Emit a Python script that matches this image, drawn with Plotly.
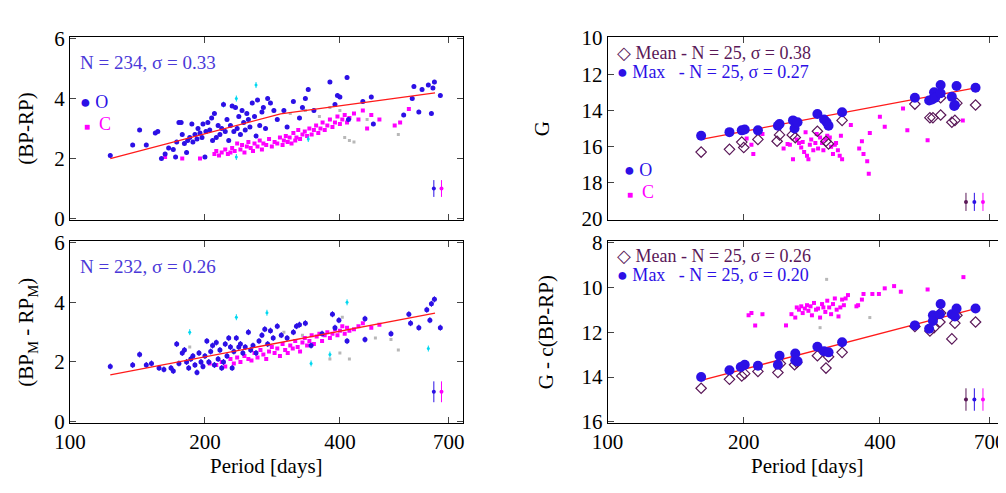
import plotly.graph_objects as go

# --- Daten: oben links (BP-RP) ---
tl_o_p = [123,138,143,148,155,157,160,163,166,170,172,173,175,177,178,180,182,183,185,187,188,190,192,193,195,197,198,200,201,203,205,207,208,210,212,214,216,218,220,222,224,226,228,230,232,234,236,238,240,242,244,246,248,250,252,255,258,260,262,265,268,270,273,276,280,285,290,300,305,315,325,330,335,340,350,380,390,395,400,415,418,450,470,475,555,580,585,600,610,630,640,645,650,670]
tl_o_v = [2.1,2.45,2.95,2.45,2.85,2.9,2.0,2.15,2.35,2.3,2.05,2.55,3.2,3.2,2.8,2.5,2.2,2.6,2.7,3.15,2.55,2.8,2.65,3.0,2.85,2.7,3.15,2.05,2.9,3.2,2.95,3.35,2.6,3.5,2.7,3.1,2.8,3.0,3.8,2.9,3.3,2.6,3.1,3.75,2.9,3.7,3.0,3.4,2.8,3.6,3.2,2.95,3.5,3.3,3.05,3.85,3.4,2.75,3.95,3.1,3.55,3.7,3.0,4.0,3.85,3.6,3.3,3.6,3.05,3.9,3.35,3.7,4.0,4.3,3.6,4.55,3.8,4.1,4.05,4.7,3.3,3.9,4.05,3.15,3.45,4.0,4.4,3.55,4.3,4.45,3.5,4.35,4.55,4.1]
tl_c_p = [163,178,195,210,212,215,218,222,225,228,230,233,236,240,242,245,248,250,253,256,258,262,265,268,270,274,278,282,286,290,294,298,300,303,306,309,312,315,318,320,323,326,330,334,338,342,346,350,354,358,362,366,370,375,380,385,390,395,400,405,410,415,420,430,440,450,460,470,490,530,545,570]
tl_c_v = [2.05,2.0,2.0,2.15,2.25,2.1,2.2,2.3,2.15,2.2,2.35,2.25,2.5,2.3,2.45,2.2,2.4,2.55,2.35,2.25,2.5,2.4,2.6,2.3,2.5,2.45,2.65,2.4,2.55,2.5,2.7,2.45,2.6,2.75,2.55,2.7,2.5,2.85,2.6,2.7,2.95,2.65,2.8,2.9,2.75,3.0,2.8,2.95,3.1,2.85,3.0,3.2,2.95,3.1,3.3,3.05,3.2,3.4,3.15,3.3,3.45,3.2,3.35,3.5,3.3,3.6,3.0,3.45,3.3,3.1,3.2,3.65]
tl_g_p = [290,310,335,360,380,400,410,420,430,460,540]
tl_g_v = [3.3,3.5,3.6,3.4,3.7,3.6,2.7,2.6,2.55,3.3,2.8]
tl_cy_p = [220,235,260,235,340]
tl_cy_v = [3.8,4.0,4.45,2.05,2.65]
tl_fit_p = [123,295,652]
tl_fit_v = [2.0,3.49,4.19]

# --- Daten: unten links (BP_M - RP_M) ---
bl_o_p = [123,138,143,148,152,158,162,168,170,173,175,178,180,182,184,186,188,190,192,194,196,198,200,202,204,206,208,210,212,214,216,218,220,222,224,226,228,230,232,235,238,240,243,246,250,253,256,260,264,268,272,276,280,284,290,296,305,315,320,325,335,345,365,385,390,398,415,455,455,520,570,575,600,625,635,640,650,670]
bl_o_v = [1.85,1.9,2.25,1.9,1.95,1.8,1.75,1.8,1.7,2.6,1.95,2.3,2.4,2.0,1.8,2.1,2.2,1.9,1.65,2.3,2.0,1.85,2.2,2.7,2.0,2.35,2.55,1.9,2.65,2.1,2.4,1.8,2.0,2.6,2.2,2.8,2.5,1.8,2.35,2.8,2.5,2.6,2.3,2.5,3.0,2.4,2.55,2.3,2.7,2.9,3.1,2.6,3.05,2.8,3.2,2.9,2.8,3.0,3.2,3.25,3.3,2.55,2.95,3.6,3.15,3.4,2.7,3.45,2.75,2.95,3.6,3.3,3.15,3.75,3.4,3.95,4.1,3.15]
bl_c_p = [190,198,205,212,218,222,228,232,236,240,245,250,254,258,262,266,270,274,278,282,286,290,294,298,302,306,310,314,318,322,326,330,334,338,342,346,350,355,360,365,370,375,380,385,390,395,400,405,410,415,420,430,440,450,470,490]
bl_c_v = [1.9,1.85,1.95,1.9,2.0,1.85,2.1,1.95,2.15,2.0,2.2,2.1,2.05,2.3,2.15,2.4,2.25,2.1,2.35,2.5,2.3,2.45,2.2,2.6,2.4,2.3,2.55,2.45,2.7,2.5,2.35,2.65,2.8,2.55,2.7,2.9,2.6,2.85,2.95,2.7,2.9,3.0,2.8,2.95,3.1,2.9,3.05,3.2,2.95,3.15,3.05,3.1,3.2,3.3,3.15,3.25]
bl_g_p = [185,300,330,380,400,405,420,480,520,540]
bl_g_v = [2.5,3.0,2.9,2.1,2.3,3.5,2.1,2.8,2.75,2.4]
bl_cy_p = [185,235,275,345,380,415,630]
bl_cy_v = [3.0,3.5,3.65,1.95,2.25,4.0,2.45]
bl_fit_p = [123,652]
bl_fit_v = [1.57,3.64]

# --- Daten: oben rechts (G) ---
tr_max_p = [161,186,198,201,215,238,240,257,259,263,291,301,305,308,330,478,514,522,527,530,545,545,577,586,591,584,651]
tr_max_v = [15.4,15.2,15.1,15.05,15.1,14.85,14.75,14.55,15.0,14.65,14.2,14.5,14.65,14.85,14.1,13.3,13.45,13.4,13.0,13.3,12.6,13.05,13.25,13.7,12.65,13.75,12.75]
tr_mean_p = [161,186,198,200,215,237,240,256,260,291,304,308,330,478,516,524,545,545,577,586,592,651]
tr_mean_v = [16.3,16.15,15.75,16.05,15.6,15.7,15.35,15.35,15.5,15.15,15.7,15.85,14.55,13.65,14.4,14.4,14.25,13.3,14.65,14.55,13.6,13.7]
tr_c_p = [203,208,210,220,245,250,253,257,262,265,268,270,272,274,276,278,280,282,285,288,290,292,295,298,300,303,306,310,312,315,318,320,323,326,328,330,345,360,365,368,375,378,380,400,410,450,460,510,610]
tr_c_v = [15.55,15.9,16.4,15.3,16.1,15.85,15.9,16.7,15.6,15.8,16.05,15.75,16.3,15.2,16.5,16.7,15.9,15.6,16.2,15.8,15.3,16.1,15.5,15.8,16.2,15.6,15.4,15.5,16.0,16.4,15.9,15.8,16.2,16.5,15.4,16.7,14.8,16.1,15.7,16.4,16.8,17.5,15.25,14.35,14.9,13.9,15.1,15.65,14.55]
tr_fit_p = [161,651]
tr_fit_v = [15.6,12.75]

# --- Daten: unten rechts (G - c(BP-RP)) ---
br_max_p = [161,186,197,201,215,238,240,260,260,263,291,301,308,330,478,514,524,524,543,545,577,586,591,651]
br_max_v = [14.0,13.7,13.55,13.45,13.5,13.45,13.05,12.95,13.25,13.3,12.65,12.85,12.9,12.45,11.7,11.85,11.25,11.5,11.2,10.75,11.2,11.3,10.95,10.95]
br_mean_p = [161,186,198,201,215,238,241,259,262,291,304,308,330,478,516,527,543,545,577,586,592,651]
br_mean_v = [14.5,14.1,13.95,13.85,13.75,13.8,13.4,13.45,13.35,13.05,13.6,13.1,12.9,11.75,11.95,11.8,11.55,11.15,12.3,11.6,11.25,11.55]
br_c_p = [205,208,212,220,248,255,260,262,265,268,270,273,276,278,281,283,286,289,292,295,298,300,303,306,309,312,315,318,321,324,327,330,333,336,340,355,358,365,368,385,398,410,430,445,510,612]
br_c_v = [11.25,11.15,11.7,11.2,11.7,11.2,11.35,10.9,11.0,10.85,11.15,10.95,10.8,11.05,10.85,11.25,10.7,11.0,10.95,11.35,10.75,10.9,11.1,10.6,10.9,11.2,10.75,10.5,11.0,11.3,10.9,10.55,10.8,10.5,10.35,10.85,10.8,10.55,10.3,10.3,10.3,10.05,9.95,10.2,10.1,9.55]
br_g_p = [305,295,380]
br_g_v = [9.65,11.8,11.35]
br_fit_p = [161,651]
br_fit_v = [14.15,10.95]

# Fehlerbalken-Beispiele rechts unten
left_err_p = [648,674]
right_err_p = [620,647,676]

BLUE = '#2c10e6'
MAG = '#ff00ff'
PURP = '#5a1858'
CYAN = '#00d8f0'
GRAY = '#b8b8b8'
TXTBLUE = '#4a38d8'
FONT = 'Liberation Serif'

fig = go.Figure()

def pts(x, y, xa, ya, color, size, symbol='circle', err=None, line=None):
    m = dict(color=color, size=size, symbol=symbol)
    if line:
        m['line'] = line
    fig.add_trace(go.Scatter(
        x=x, y=y, xaxis=xa, yaxis=ya, mode='markers', marker=m,
        error_y=dict(type='constant', value=err, color=color, thickness=1, width=0) if err else None,
        showlegend=False, hoverinfo='skip'))

def fit(x, y, xa, ya):
    fig.add_trace(go.Scatter(x=x, y=y, xaxis=xa, yaxis=ya, mode='lines',
                             line=dict(color='#ff1a1a', width=1.3), showlegend=False))

# oben links
pts(tl_g_p, tl_g_v, 'x', 'y', GRAY, 3, 'square')
pts(tl_c_p, tl_c_v, 'x', 'y', MAG, 4, 'square')
pts(tl_cy_p, tl_cy_v, 'x', 'y', CYAN, 3, err=0.1)
pts(tl_o_p, tl_o_v, 'x', 'y', BLUE, 5, err=0.07)
fit(tl_fit_p, tl_fit_v, 'x', 'y')
pts(left_err_p[:1], [1.0], 'x', 'y', BLUE, 4, err=0.28)
pts(left_err_p[1:], [1.0], 'x', 'y', MAG, 4, err=0.28)

# unten links
pts(bl_g_p, bl_g_v, 'x2', 'y2', GRAY, 3, 'square')
pts(bl_c_p, bl_c_v, 'x2', 'y2', MAG, 4, 'square')
pts(bl_cy_p, bl_cy_v, 'x2', 'y2', CYAN, 3, err=0.1)
pts(bl_o_p, bl_o_v, 'x2', 'y2', BLUE, 5, err=0.1)
fit(bl_fit_p, bl_fit_v, 'x2', 'y2')
pts(left_err_p[:1], [1.0], 'x2', 'y2', BLUE, 4, err=0.35)
pts(left_err_p[1:], [1.0], 'x2', 'y2', MAG, 4, err=0.35)

# oben rechts
pts(tr_c_p, tr_c_v, 'x3', 'y3', MAG, 4, 'square')
fit(tr_fit_p, tr_fit_v, 'x3', 'y3')
pts(tr_mean_p, tr_mean_v, 'x3', 'y3', PURP, 8, 'diamond-open', line=dict(color=PURP, width=1.2))
pts(tr_max_p, tr_max_v, 'x3', 'y3', BLUE, 10)
for p, c in zip(right_err_p, [PURP, BLUE, MAG]):
    pts([p], [19.05], 'x3', 'y3', c, 4, err=0.5)

# unten rechts
pts(br_g_p, br_g_v, 'x4', 'y4', GRAY, 3, 'square')
pts(br_c_p, br_c_v, 'x4', 'y4', MAG, 4, 'square')
fit(br_fit_p, br_fit_v, 'x4', 'y4')
pts(br_mean_p, br_mean_v, 'x4', 'y4', PURP, 8, 'diamond-open', line=dict(color=PURP, width=1.2))
pts(br_max_p, br_max_v, 'x4', 'y4', BLUE, 10)
for p, c in zip(right_err_p, [PURP, BLUE, MAG]):
    pts([p], [15.0], 'x4', 'y4', c, 4, err=0.5)

tickfont = dict(family=FONT, size=21, color='black')
tfont = dict(family=FONT, size=21, color='black')
xcommon = dict(type='log', tickvals=[100, 200, 400, 700], ticks='inside', ticklen=6,
               mirror='ticks', showline=True, linecolor='black', linewidth=1,
               showgrid=False, zeroline=False, tickfont=tickfont, automargin=False,
               title_font=tfont)
ycommon = dict(ticks='inside', ticklen=6, mirror='ticks', showline=True, linecolor='black',
               linewidth=1, showgrid=False, zeroline=False, tickfont=tickfont, dtick=2,
               automargin=False, title_font=tfont)

fig.update_layout(
    width=1006, height=493, margin=dict(l=0, r=0, t=0, b=0),
    paper_bgcolor='white', plot_bgcolor='white',
    xaxis=dict(xcommon, domain=[0.0616, 0.452], range=[2, 2.876], showticklabels=False, anchor='y'),
    yaxis=dict(ycommon, domain=[0.570, 0.941], range=[-0.05, 6.05], anchor='x', title=dict(text='(BP-RP)', standoff=14)),
    xaxis2=dict(xcommon, domain=[0.0616, 0.452], range=[2, 2.876], anchor='y2', title=dict(text='Period [days]', standoff=0)),
    yaxis2=dict(ycommon, domain=[0.158, 0.527], range=[-0.05, 6.05], anchor='x2', title=dict(text='(BP<sub>M</sub> - RP<sub>M</sub>)', standoff=14)),
    xaxis3=dict(xcommon, domain=[0.596, 0.993], range=[2, 2.883], showticklabels=False, anchor='y3'),
    yaxis3=dict(ycommon, domain=[0.570, 0.941], range=[20.05, 9.95], anchor='x3', title=dict(text='G', standoff=26)),
    xaxis4=dict(xcommon, domain=[0.596, 0.993], range=[2, 2.883], anchor='y4', title=dict(text='Period [days]', standoff=0)),
    yaxis4=dict(ycommon, domain=[0.158, 0.527], range=[16.05, 7.95], anchor='x4', title=dict(text='G - c(BP-RP)', standoff=22)),
)

def note(text, x, y, color, size=19):
    fig.add_annotation(text=text, xref='paper', yref='paper', x=x, y=y, xanchor='left',
                       yanchor='middle', showarrow=False, font=dict(family=FONT, size=size, color=color))

note('N = 234, σ = 0.33', 0.070, 0.890, TXTBLUE)
note('● O', 0.070, 0.809, BLUE, 18)
note('<span style="font-size:10px">■</span>  C', 0.074, 0.765, MAG, 18)
note('N = 232, σ = 0.26', 0.070, 0.475, TXTBLUE)
note('◇ Mean - N = 25, σ = 0.38', 0.603, 0.909, PURP, 18)
note('● Max   - N = 25, σ = 0.27', 0.603, 0.870, BLUE, 18)
note('● O', 0.610, 0.671, BLUE, 18)
note('<span style="font-size:10px">■</span>  C', 0.613, 0.627, MAG, 18)
note('◇ Mean - N = 25, σ = 0.26', 0.603, 0.497, PURP, 18)
note('● Max   - N = 25, σ = 0.20', 0.603, 0.458, BLUE, 18)

fig.write_html('out.html')
